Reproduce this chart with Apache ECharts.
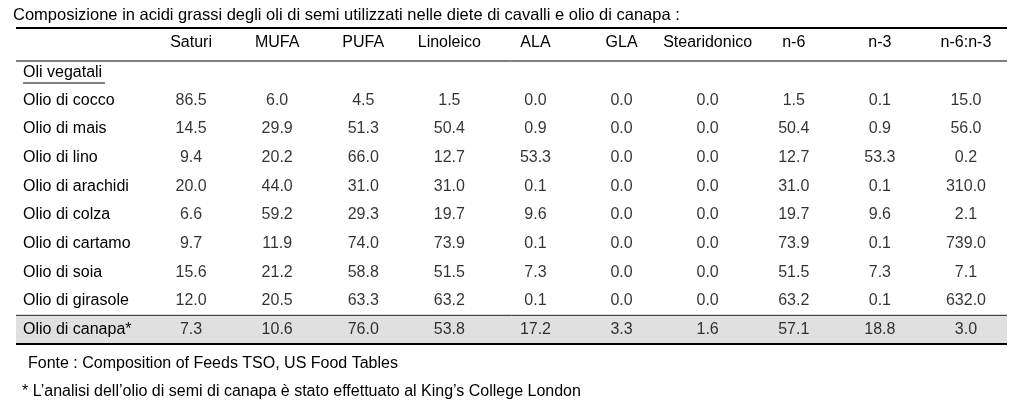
<!DOCTYPE html>
<html><head><meta charset="utf-8">
<script src="https://cdn.jsdelivr.net/npm/echarts@6/dist/echarts.min.js"></script>
<style>html,body{margin:0;padding:0;background:#fff}#c{width:1024px;height:410px}</style>
</head><body><div id="c"></div>
<script>
const title = "Composizione in acidi grassi degli oli di semi utilizzati nelle diete di cavalli e olio di canapa :";
const sectionLabel = "Oli vegatali";
const columns = ["Saturi","MUFA","PUFA","Linoleico","ALA","GLA","Stearidonico","n-6","n-3","n-6:n-3"];
const oils = ["Olio di cocco","Olio di mais","Olio di lino","Olio di arachidi","Olio di colza","Olio di cartamo","Olio di soia","Olio di girasole","Olio di canapa*"];
const saturi     = [86.5, 14.5, 9.4, 20.0, 6.6, 9.7, 15.6, 12.0, 7.3];
const mufa       = [6.0, 29.9, 20.2, 44.0, 59.2, 11.9, 21.2, 20.5, 10.6];
const pufa       = [4.5, 51.3, 66.0, 31.0, 29.3, 74.0, 58.8, 63.3, 76.0];
const linoleico  = [1.5, 50.4, 12.7, 31.0, 19.7, 73.9, 51.5, 63.2, 53.8];
const ala        = [0.0, 0.9, 53.3, 0.1, 9.6, 0.1, 7.3, 0.1, 17.2];
const gla        = [0.0, 0.0, 0.0, 0.0, 0.0, 0.0, 0.0, 0.0, 3.3];
const stearidonico = [0.0, 0.0, 0.0, 0.0, 0.0, 0.0, 0.0, 0.0, 1.6];
const n6         = [1.5, 50.4, 12.7, 31.0, 19.7, 73.9, 51.5, 63.2, 57.1];
const n3         = [0.1, 0.9, 53.3, 0.1, 9.6, 0.1, 7.3, 0.1, 18.8];
const ratio      = [15.0, 56.0, 0.2, 310.0, 2.1, 739.0, 7.1, 632.0, 3.0];
const sourceNote = "Fonte : Composition of Feeds TSO, US Food Tables";
const footNote = "* L\u2019analisi dell\u2019olio di semi di canapa \u00e8 stato effettuato al King\u2019s College London";

const valueCols = [saturi, mufa, pufa, linoleico, ala, gla, stearidonico, n6, n3, ratio];
const cells = [];
valueCols.forEach((col, ci) => col.forEach((v, ri) => cells.push([columns[ci], oils[ri], v])));

const FONT = "'Liberation Sans', Arial, sans-serif";
const FS = 16;
const chart = echarts.init(document.getElementById('c'));
const gridLeft = 148, gridRight = 15, gridTop = 86, gridBottom = 66;
chart.setOption({
  animation: false,
  backgroundColor: '#fff',
  title: { text: title, left: 8, top: 2, textStyle: { fontFamily: FONT, fontSize: 16.5, fontWeight: 'normal', color: '#000' } },
  grid: { left: gridLeft, right: gridRight, top: gridTop, bottom: gridBottom },
  xAxis: { type: 'category', data: columns, position: 'top', axisLine: {show:false}, axisTick:{show:false},
    axisLabel: { fontFamily: FONT, fontSize: FS, color: '#000', margin: 35, interval: 0 } },
  yAxis: { type: 'category', data: oils, inverse: true, axisLine:{show:false}, axisTick:{show:false}, splitLine:{show:false},
    axisLabel: { fontFamily: FONT, fontSize: FS, color: '#000', align: 'left', margin: gridLeft - 23, interval: 0 } },
  series: [{
    type: 'scatter', data: cells, symbolSize: 0, silent: true, z: 5,
    label: { show: true, position: 'inside', fontFamily: FONT, fontSize: FS, color: '#000',
      formatter: p => p.value[2].toFixed(1) }
  }]
});

const last = oils[oils.length - 1];
const yc = chart.convertToPixel({yAxisIndex: 0}, last);
const y0 = chart.convertToPixel({yAxisIndex: 0}, oils[0]);
const step = (yc - y0) / (oils.length - 1);
const bandTop = yc - step / 2, bandBot = yc + step / 2;
const L = 16, R = 1007;
chart.setOption({
  graphic: [
    { type: 'rect', z: -1, shape: { x: L, y: bandTop, width: R - L, height: bandBot - bandTop }, style: { fill: '#e0e0e0' } },
    { type: 'line', shape: { x1: L, y1: 28, x2: R, y2: 28 }, style: { stroke: '#000', lineWidth: 2 } },
    { type: 'line', shape: { x1: L, y1: 61, x2: R, y2: 61 }, style: { stroke: '#000', lineWidth: 1 } },
    { type: 'line', shape: { x1: L, y1: bandTop, x2: R, y2: bandTop }, style: { stroke: '#222', lineWidth: 1 } },
    { type: 'line', shape: { x1: L, y1: bandBot, x2: R, y2: bandBot }, style: { stroke: '#000', lineWidth: 2 } },
    { type: 'text', left: 23, top: 65, style: { text: sectionLabel, font: FS + 'px ' + FONT, fill: '#000' } },
    { type: 'line', shape: { x1: 23, y1: 83, x2: 105, y2: 83 }, style: { stroke: '#000', lineWidth: 1 } },
    { type: 'text', left: 28, top: 356, style: { text: sourceNote, font: FS + 'px ' + FONT, fill: '#000' } },
    { type: 'text', left: 22, top: 384, style: { text: footNote, font: FS + 'px ' + FONT, fill: '#000' } }
  ]
});
</script></body></html>
